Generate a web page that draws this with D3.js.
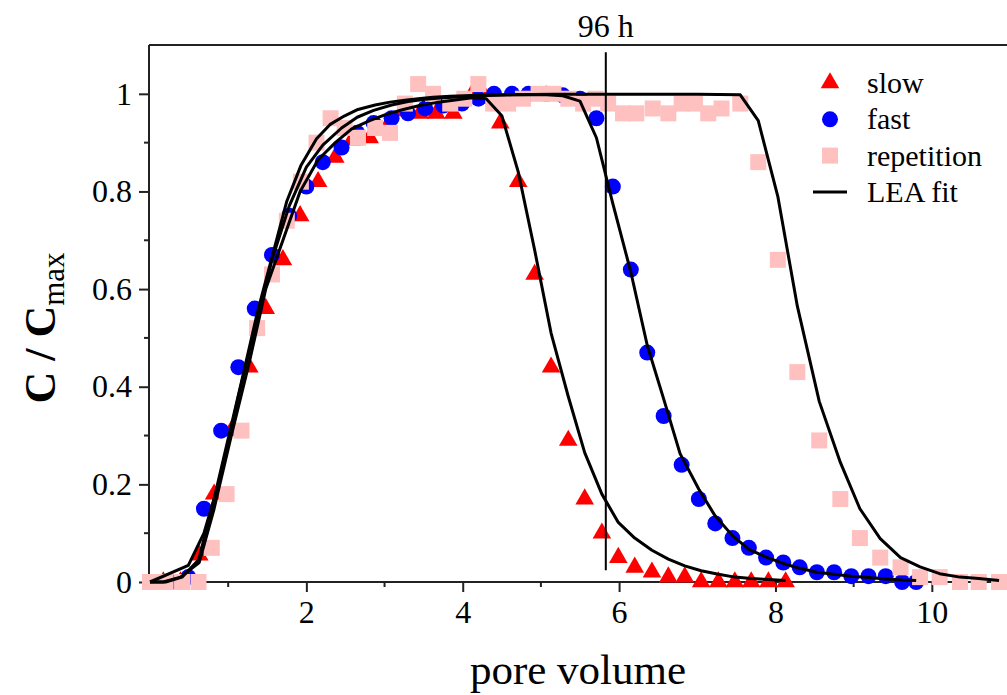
<!DOCTYPE html>
<html>
<head>
<meta charset="utf-8">
<script src="https://cdn.jsdelivr.net/npm/d3@7"></script>
<style>
  body { margin: 0; background: #fff; }
  svg text { font-family: "Liberation Serif", "Times New Roman", serif; fill: #000; }
</style>
</head>
<body>
<div id="chart"></div>
<script>
// measured points [pore volume, C/Cmax]
const slowData = [[0.17,0],[0.39,0],[0.63,0.055],[0.82,0.18],[1.04,0.31],[1.27,0.44],[1.48,0.56],[1.70,0.66],[1.92,0.75],[2.15,0.82],[2.37,0.87],[2.58,0.905],[2.81,0.91],[3.02,0.93],[3.24,0.965],[3.45,0.96],[3.66,0.96],[3.88,0.96],[4.12,1.0],[4.3,0.99],[4.48,0.94],[4.71,0.82],[4.92,0.63],[5.13,0.44],[5.35,0.29],[5.56,0.17],[5.78,0.10],[5.99,0.05],[6.2,0.03],[6.42,0.02],[6.63,0.01],[6.84,0.01],[7.05,0],[7.27,0],[7.48,0],[7.69,0],[7.91,0],[8.13,0]];

const fastData = [[0.26,0],[0.49,0.01],[0.69,0.15],[0.91,0.31],[1.13,0.44],[1.34,0.56],[1.56,0.67],[1.78,0.75],[2.0,0.81],[2.21,0.86],[2.45,0.89],[2.65,0.92],[2.86,0.94],[3.09,0.95],[3.30,0.96],[3.52,0.97],[3.75,0.976],[3.99,0.98],[4.2,0.99],[4.4,1.0],[4.63,1.0],[4.84,1.0],[5.07,1.0],[5.28,0.997],[5.5,0.99],[5.71,0.95],[5.92,0.81],[6.15,0.64],[6.36,0.47],[6.57,0.34],[6.8,0.24],[7.02,0.17],[7.23,0.12],[7.45,0.09],[7.66,0.07],[7.88,0.05],[8.1,0.04],[8.31,0.03],[8.53,0.02],[8.75,0.02],[8.97,0.012],[9.19,0.012],[9.41,0.012],[9.62,0],[9.8,0]];

const repData = [[0,0],[0.2,0],[0.41,0],[0.62,0],[0.79,0.07],[0.98,0.18],[1.17,0.31],[1.37,0.52],[1.56,0.63],[1.75,0.74],[1.93,0.82],[2.13,0.9],[2.31,0.95],[2.49,0.93],[2.66,0.91],[2.88,0.93],[3.07,0.92],[3.26,0.98],[3.43,1.02],[3.62,1.0],[3.84,0.98],[4.02,0.99],[4.2,1.02],[4.39,0.98],[4.58,0.98],[4.77,0.99],[4.97,1.0],[5.16,1.0],[5.35,0.99],[5.54,0.98],[5.7,0.99],[5.86,0.98],[6.05,0.96],[6.22,0.96],[6.43,0.97],[6.63,0.96],[6.8,0.98],[6.97,0.98],[7.14,0.96],[7.31,0.97],[7.55,0.98],[7.78,0.86],[8.03,0.66],[8.28,0.43],[8.56,0.29],[8.83,0.17],[9.08,0.09],[9.34,0.05],[9.6,0.03],[9.85,0.01],[10.1,0.01],[10.36,0],[10.6,0],[10.86,0]];

// LEA fit curves
const fitSlow = [[0,0],[0.17,0],[0.39,0.01],[0.63,0.04],[0.82,0.15],[1.04,0.3],[1.27,0.45],[1.48,0.6],[1.70,0.7],[1.92,0.8],[2.15,0.865],[2.37,0.9],[2.58,0.928],[2.81,0.945],[3.02,0.958],[3.24,0.968],[3.45,0.976],[3.66,0.982],[3.88,0.987],[4.12,0.992],[4.3,0.99],[4.5,0.955],[4.71,0.84],[4.92,0.68],[5.13,0.51],[5.35,0.38],[5.56,0.265],[5.78,0.18],[5.99,0.122],[6.2,0.09],[6.42,0.065],[6.63,0.047],[6.84,0.033],[7.05,0.023],[7.27,0.016],[7.48,0.01],[7.69,0.007],[7.91,0.005],[8.13,0.003]];

const fitFast = [[0,0],[0.49,0.034],[0.69,0.1],[0.91,0.22],[1.13,0.38],[1.34,0.52],[1.56,0.66],[1.78,0.77],[2.0,0.85],[2.21,0.895],[2.45,0.93],[2.65,0.952],[2.86,0.966],[3.09,0.977],[3.30,0.984],[3.52,0.989],[3.75,0.992],[3.99,0.994],[4.2,0.996],[4.4,0.997],[4.63,0.998],[4.84,0.998],[5.07,0.998],[5.28,0.996],[5.5,0.985],[5.71,0.91],[5.92,0.775],[6.15,0.635],[6.36,0.485],[6.57,0.375],[6.78,0.263],[7.02,0.19],[7.23,0.135],[7.45,0.095],[7.66,0.067],[7.88,0.051],[8.1,0.038],[8.31,0.028],[8.53,0.02],[8.75,0.016],[8.97,0.012],[9.19,0.009],[9.41,0.006],[9.62,0.004],[9.8,0.003]];

const fitRep = [[0,0],[0.2,0],[0.41,0.01],[0.62,0.045],[0.79,0.15],[0.98,0.28],[1.17,0.41],[1.37,0.55],[1.56,0.665],[1.75,0.78],[1.93,0.853],[2.13,0.908],[2.31,0.938],[2.49,0.955],[2.66,0.968],[2.88,0.977],[3.07,0.983],[3.26,0.987],[3.43,0.99],[3.62,0.993],[3.84,0.995],[4.2,0.997],[4.58,0.998],[5.16,0.999],[6.1,0.999],[7.0,0.999],[7.55,0.998],[7.78,0.945],[8.03,0.79],[8.28,0.565],[8.56,0.37],[8.83,0.245],[9.08,0.15],[9.34,0.089],[9.6,0.05],[9.85,0.031],[10.1,0.017],[10.36,0.01],[10.6,0.007],[10.86,0.003]];

// 96 h marker: pore volume and vertical extent
const mark96 = [5.83, 0.024, 1.085];

const xMajor = [2, 4, 6, 8, 10];
const xMinor = [1, 3, 5, 7, 9];
const yMajor = [0, 0.2, 0.4, 0.6, 0.8, 1];
const yMinor = [0.1, 0.3, 0.5, 0.7, 0.9];
const legendNames = ["slow", "fast", "repetition", "LEA fit"];

const W = 1007, H = 695;
const serif = '"Liberation Serif", "Times New Roman", serif';
const svg = d3.select("#chart").append("svg")
  .attr("width", W)
  .attr("height", H);

const x = d3.scaleLinear().domain([0, 11]).range([150, 1010]);
const y = d3.scaleLinear().domain([0, 1.1]).range([582, 45]);

const axisColor = "#222";

// frame: top line
svg.append("line")
  .attr("x1", 149).attr("x2", W)
  .attr("y1", y(1.1)).attr("y2", y(1.1))
  .attr("stroke", axisColor).attr("stroke-width", 2);

// x axis
const gx = svg.append("g").attr("transform", `translate(0,${y(0)})`);
gx.call(d3.axisBottom(x).tickValues(xMajor).tickSize(10).tickPadding(8).tickFormat(d3.format("d")));
gx.attr("font-family", null).attr("font-size", null);
gx.select(".domain").remove();
gx.append("line").attr("x1", 149).attr("x2", W).attr("stroke", axisColor).attr("stroke-width", 2);
gx.selectAll(".tick line").attr("stroke", axisColor).attr("stroke-width", 2);
gx.selectAll(".tick text").style("font-size", "32px").style("font-family", serif).attr("fill", "#000");
gx.selectAll(".minor").data(xMinor).enter().append("line")
  .attr("x1", (d) => x(d)).attr("x2", (d) => x(d))
  .attr("y1", 0).attr("y2", 5)
  .attr("stroke", axisColor).attr("stroke-width", 2);

// y axis
const gy = svg.append("g").attr("transform", "translate(149,0)");
gy.call(d3.axisLeft(y).tickValues(yMajor).tickSize(10).tickPadding(7).tickFormat(d3.format("~g")));
gy.attr("font-family", null).attr("font-size", null);
gy.select(".domain").remove();
gy.append("line").attr("y1", y(0)).attr("y2", y(1.1)).attr("stroke", axisColor).attr("stroke-width", 2);
gy.selectAll(".tick line").attr("stroke", axisColor).attr("stroke-width", 2);
gy.selectAll(".tick text").style("font-size", "32px").style("font-family", serif).attr("fill", "#000");
gy.selectAll(".minor").data(yMinor).enter().append("line")
  .attr("y1", (d) => y(d)).attr("y2", (d) => y(d))
  .attr("x1", 0).attr("x2", -5)
  .attr("stroke", axisColor).attr("stroke-width", 2);

// axis titles
svg.append("text")
  .attr("x", 578).attr("y", 684)
  .attr("text-anchor", "middle")
  .style("font-size", "43px")
  .text("pore volume");

const yt = svg.append("text")
  .attr("transform", "translate(55,328) rotate(-90)")
  .attr("text-anchor", "middle")
  .style("font-size", "44px")
  .style("font-weight", "bold");
yt.append("tspan").text("C / C");
yt.append("tspan").style("font-size", "31px").style("font-weight", "normal").attr("dy", 9).text("max");

// markers
const tri = d3.symbol().type(d3.symbolTriangle).size(150);
const plot = svg.append("g");

plot.selectAll(".slow").data(slowData).enter().append("path")
  .attr("d", tri)
  .attr("transform", (d) => `translate(${x(d[0])},${y(d[1])})`)
  .attr("fill", "#ff0000");

plot.selectAll(".fast").data(fastData).enter().append("circle")
  .attr("cx", (d) => x(d[0]))
  .attr("cy", (d) => y(d[1]))
  .attr("r", 8)
  .attr("fill", "#0000ff");

plot.selectAll(".rep").data(repData).enter().append("rect")
  .attr("x", (d) => x(d[0]) - 8)
  .attr("y", (d) => y(d[1]) - 8)
  .attr("width", 16)
  .attr("height", 16)
  .attr("fill", "#ffc0c0");

// fit lines
const line = d3.line().x((d) => x(d[0])).y((d) => y(d[1]));
[fitSlow, fitFast, fitRep].forEach((f) => {
  plot.append("path")
    .datum(f)
    .attr("fill", "none")
    .attr("stroke", "#000")
    .attr("stroke-width", 3)
    .attr("stroke-linejoin", "round")
    .attr("d", line);
});

// 96 h marker
svg.append("line")
  .attr("x1", x(mark96[0])).attr("x2", x(mark96[0]))
  .attr("y1", y(mark96[1])).attr("y2", y(mark96[2]))
  .attr("stroke", "#000").attr("stroke-width", 2);
svg.append("text")
  .attr("x", x(mark96[0])).attr("y", 37)
  .attr("text-anchor", "middle")
  .style("font-size", "32px")
  .text("96 h");

// legend
const lg = svg.append("g").attr("transform", "translate(830,83)");
const rowH = 36.3;
legendNames.forEach((name, i) => {
  const g = lg.append("g").attr("transform", `translate(0,${i * rowH})`);
  if (i === 0) g.append("path").attr("d", tri).attr("fill", "#ff0000");
  if (i === 1) g.append("circle").attr("r", 8).attr("fill", "#0000ff");
  if (i === 2) g.append("rect").attr("x", -8).attr("y", -8).attr("width", 16).attr("height", 16).attr("fill", "#ffc0c0");
  if (i === 3) g.append("line").attr("x1", -17).attr("x2", 17).attr("stroke", "#000").attr("stroke-width", 3);
  g.append("text")
    .attr("x", 37).attr("y", 10)
    .style("font-size", "30px")
    .text(name);
});
</script>
</body>
</html>
